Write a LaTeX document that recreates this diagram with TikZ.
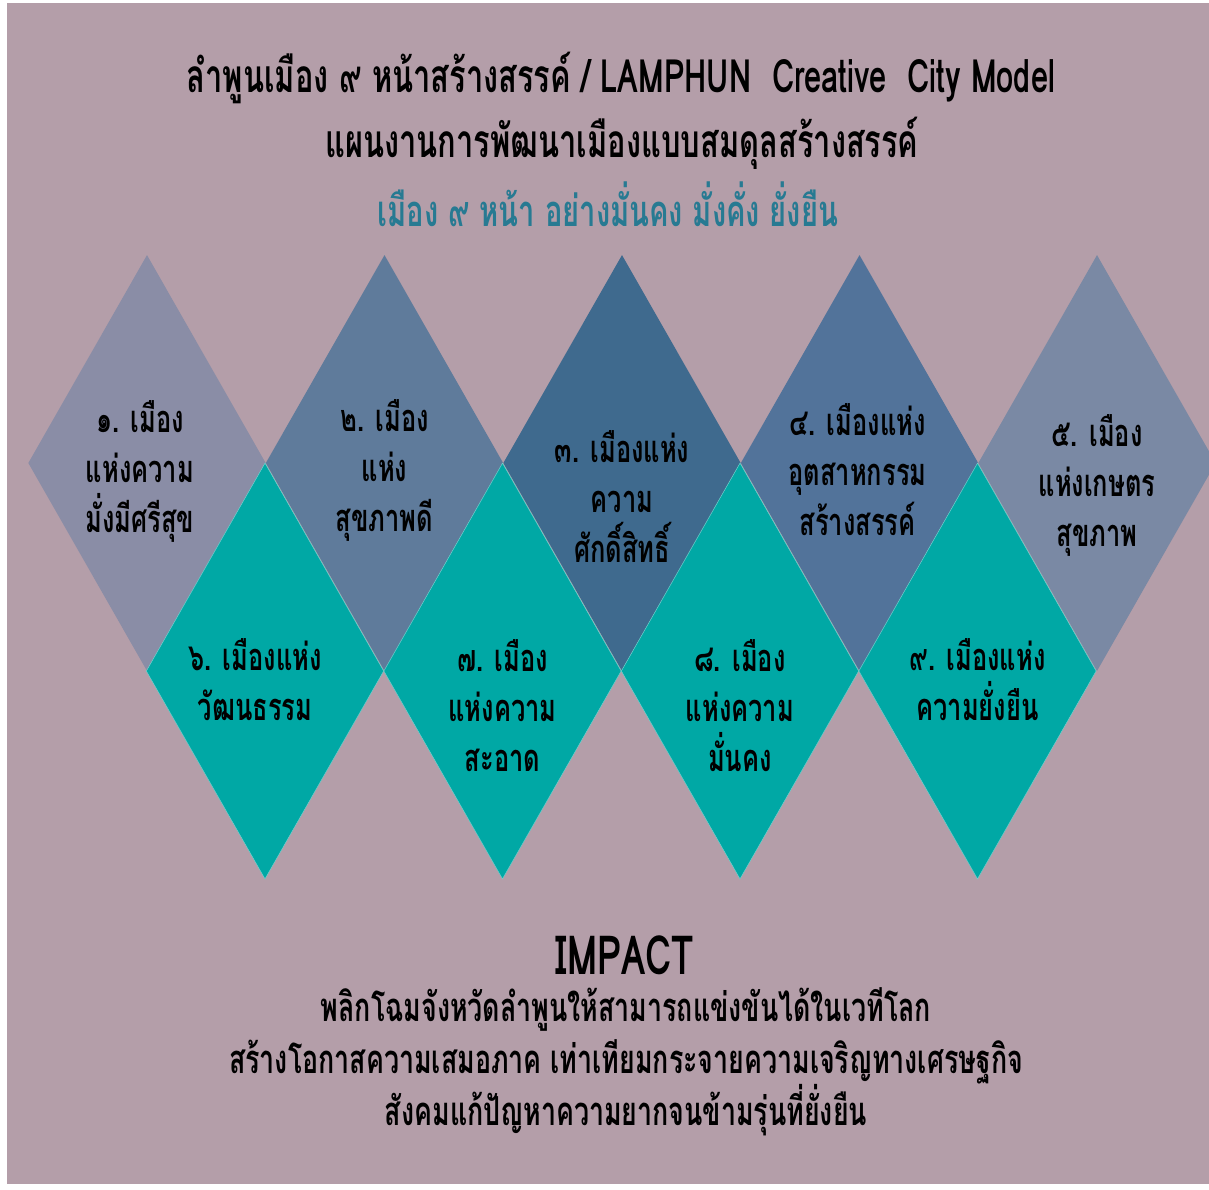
\documentclass[tikz,border=0pt]{standalone}
\usepackage{fontspec}
\setmainfont[Script=Thai,FakeStretch=0.67]{Loma}
\usetikzlibrary{shapes.geometric}

\definecolor{bgmauve}{HTML}{B49EA9}
\definecolor{gemA}{HTML}{8A8DA6}
\definecolor{gemB}{HTML}{5F7B9B}
\definecolor{gemC}{HTML}{3F6A8E}
\definecolor{gemD}{HTML}{52739A}
\definecolor{gemE}{HTML}{7A89A4}
\definecolor{tealgem}{HTML}{00A8A5}
\definecolor{mottoteal}{HTML}{277A92}

\tikzset{
  gem/.style={diamond, minimum width=237.5pt, minimum height=416pt, inner sep=0pt},
  upgem/.style={gem, fill=#1},
  lowgem/.style={gem, fill=tealgem, draw=tealgem!55!white, line width=0.5pt},
  gemtext/.style={align=center, font=\fontsize{38}{50}\selectfont\bfseries},
  headtext/.style={align=center, font=\fontsize{46}{65}\selectfont\bfseries},
  impacttext/.style={align=center, font=\fontsize{40}{52}\selectfont\bfseries},
}

\begin{document}
\begin{tikzpicture}[x=1pt,y=-1pt]
  \useasboundingbox (0,0) rectangle (1209,1189);
  \clip (0,0) rectangle (1209,1189);
  \fill[white] (0,0) rectangle (1209,1189);
  \fill[bgmauve] (7,3) rectangle (1209,1184);

  % headline
  \node[headtext] (title) at (621,78) {ลำพูนเมือง ๙ หน้าสร้างสรรค์ / LAMPHUN~~Creative~~City Model};
  \node[headtext] (plan) at (622,143) {แผนงานการพัฒนาเมืองแบบสมดุลสร้างสรรค์};
  \node[headtext, font=\fontsize{43.5}{60}\selectfont\bfseries, text=mottoteal] (motto) at (608,204) {เมือง ๙ หน้า อย่างมั่นคง มั่งคั่ง ยั่งยืน};

  % upper row of diamonds
  \foreach \i/\c in {1/gemA,2/gemB,3/gemC,4/gemD,5/gemE} {
    \node[upgem=\c] (d\i) at ({147+237.5*(\i-1)},463) {};
  }
  % lower row, drawn on top
  \foreach \i in {6,...,9} {
    \node[lowgem] (d\i) at ({265+237.5*(\i-6)},671) {};
  }

  \node[gemtext, xshift=-7pt, yshift=-8pt] (t1) at (d1.center) {๑. เมือง\\แห่งความ\\มั่งมีศรีสุข};
  \node[gemtext, yshift=-7pt] (t2) at (d2.center) {๒. เมือง\\แห่ง\\สุขภาพดี};
  \node[gemtext, yshift=-34pt] (t3) at (d3.center) {๓. เมืองแห่ง\\ความ\\ศักดิ์สิทธิ์};
  \node[gemtext, xshift=-2pt, yshift=-7pt] (t4) at (d4.center) {๔. เมืองแห่ง\\อุตสาหกรรม\\สร้างสรรค์};
  \node[gemtext, yshift=-22pt] (t5) at (d5.center) {๕. เมือง\\แห่งเกษตร\\สุขภาพ};
  \node[gemtext, xshift=-10pt, yshift=-9pt] (t6) at (d6.center) {๖. เมืองแห่ง\\วัฒนธรรม};
  \node[gemtext, yshift=-35pt] (t7) at (d7.center) {๗. เมือง\\แห่งความ\\สะอาด};
  \node[gemtext, yshift=-35pt] (t8) at (d8.center) {๘. เมือง\\แห่งความ\\มั่นคง};
  \node[gemtext, yshift=-9pt] (t9) at (d9.center) {๙. เมืองแห่ง\\ความยั่งยืน};

  % impact
  \node[font=\fontsize{54}{60}\selectfont\bfseries] (impact) at (625,955) {IMPACT};
  \node[impacttext] (effects) at (626,1062) {พลิกโฉมจังหวัดลำพูนให้สามารถแข่งขันได้ในเวทีโลก\\สร้างโอกาสความเสมอภาค เท่าเทียมกระจายความเจริญทางเศรษฐกิจ\\สังคมแก้ปัญหาความยากจนข้ามรุ่นที่ยั่งยืน};
\end{tikzpicture}
\end{document}
